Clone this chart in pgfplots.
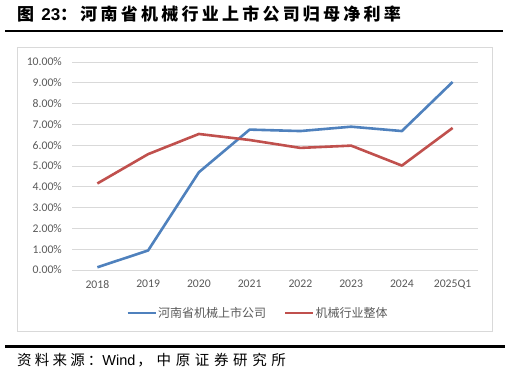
\documentclass[border=0pt]{standalone}
\usepackage{fontspec}
\usepackage{pgfplots}
\pgfplotsset{compat=1.18}
\setmainfont{Carlito}
\newfontfamily\cjk{Noto Sans CJK SC}
\newfontfamily\cjkt[LetterSpace=19]{Noto Sans CJK SC}
\newfontfamily\cjks[LetterSpace=22]{Noto Sans CJK SC}
\newfontfamily\cjksb[LetterSpace=32]{Noto Sans CJK SC}
\newfontfamily\arial{Liberation Sans}
\definecolor{sblue}{HTML}{4F81BD}
\definecolor{sred}{HTML}{C0504D}
\definecolor{gridc}{HTML}{D9D9D9}
\definecolor{txtc}{HTML}{595959}
\begin{document}
\begin{tikzpicture}
\path[use as bounding box] (0pt,0pt) rectangle (510pt,378pt);
% frame and rules
\draw[gridc, line width=0.8pt] (17pt,47pt) rectangle (492pt,331pt);
\draw[black, line width=1.3pt] (5pt,347pt) -- (503pt,347pt);
\draw[black, line width=2.6pt] (5pt,31.5pt) -- (505pt,31.5pt);
\node[anchor=west, inner sep=0pt] at (17pt,364pt) {\fontsize{17}{20}\selectfont\cjkt\bfseries 图 {\arial\bfseries 23}：河南省机械行业上市公司归母净利率};
\node[anchor=west, inner sep=0pt] at (17pt,18pt) {\fontsize{14.5}{16}\selectfont\cjks 资料来源：{\arial Wind}\hspace{2pt}{\cjksb ，中原证券研究所}};
\begin{axis}[
  at={(72pt,108pt)}, anchor=south west,
  scale only axis, width=406pt, height=208pt,
  xmin=-0.5, xmax=7.5, ymin=0, ymax=10,
  axis line style={draw=none},
  major tick length=0pt,
  ymajorgrids, grid style={gridc, line width=0.8pt},
  xtick={0,...,7},
  xticklabels={2018,2019,2020,2021,2022,2023,2024,2025Q1},
  ytick={0,...,10},
  yticklabels={0.00\%,1.00\%,2.00\%,3.00\%,4.00\%,5.00\%,6.00\%,7.00\%,8.00\%,9.00\%,10.00\%},
  tick label style={font=\fontsize{11.7}{13}\selectfont, text=txtc},
  yticklabel style={inner sep=0pt, xshift=-10pt},
  xticklabel style={inner sep=0pt, yshift=-10pt},
  legend style={at={(0.457,-0.207)}, anchor=center, draw=none, fill=none,
    legend columns=2, font=\fontsize{12}{14}\selectfont\cjk, text=txtc,
    /tikz/every even column/.append style={column sep=17pt},
    nodes={inner sep=1pt}},
  legend image code/.code={\draw[#1] (0pt,0pt) -- (28pt,0pt);},
]
\addplot[sblue, line width=2.6pt, line join=round] coordinates {
  (0,0.13) (1,0.94) (2,4.70) (3,6.75) (4,6.68) (5,6.89) (6,6.68) (7,9.04)};
\addlegendentry{河南省机械上市公司}
\addplot[sred, line width=2.6pt, line join=round] coordinates {
  (0,4.16) (1,5.57) (2,6.54) (3,6.25) (4,5.87) (5,5.98) (6,5.02) (7,6.83)};
\addlegendentry{机械行业整体}
\end{axis}
\end{tikzpicture}
\end{document}
